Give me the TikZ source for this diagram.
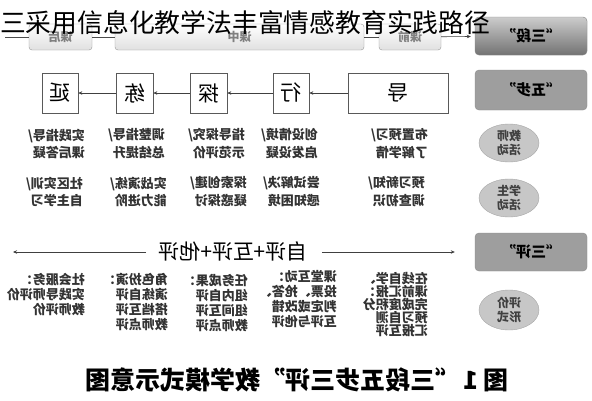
\documentclass[tikz,border=0pt]{standalone}
\usepackage{fontspec}
\setmainfont{Noto Sans CJK SC}
\usetikzlibrary{arrows.meta,shapes.geometric}
\begin{document}
\begin{tikzpicture}[x=1pt,y=-1pt,
  tbox/.style={draw=black!40, rounded corners=3pt, top color=white, bottom color=black!12, minimum height=26pt, inner sep=0pt, font=\fontsize{12}{12}\selectfont\bfseries, text=black!50},
  labbox/.style={draw=black!45, rounded corners=4pt, fill=black!38, minimum width=112pt, inner sep=0pt, font=\fontsize{15}{15}\selectfont\bfseries},
  stepbox/.style={draw=black!65, fill=white, minimum height=40pt, inner sep=0pt, line width=0.6pt, font=\fontsize{21}{21}\selectfont},
  ell/.style={ellipse, draw=black!35, fill=black!22, minimum width=60pt, minimum height=38pt, inner sep=0pt, align=center, font=\fontsize{12}{14}\selectfont\bfseries, text=black!75},
  act/.style={anchor=north west, inner sep=0pt, align=left, font=\fontsize{13}{17.5}\selectfont\bfseries, text=black!80},
  evl/.style={anchor=north west, inner sep=0pt, align=left, font=\fontsize{13}{15}\selectfont\bfseries, text=black!80},
  arr/.style={-{Stealth[length=4pt,width=3.5pt]}, draw=black!75, line width=0.6pt},
  ln/.style={draw=black!70, line width=0.6pt}
]
\fill[white] (0,0) rectangle (592,400);
\useasboundingbox (0,0) rectangle (592,400);
\begin{scope}[shift={(592,0)}, xscale=-1, transform shape]
% row 1
\node[labbox, minimum height=38pt, top color=black!20, bottom color=black!55] (sd) at (61,36) {“三段”};
\node[tbox, minimum width=62pt] (kq) at (182,37) {课前};
\node[tbox, minimum width=249pt] (kz) at (352.5,37) {课中};
\node[tbox, minimum width=63pt] (kh) at (531.5,37) {课后};
\coordinate (tend) at (587,37);
\draw[ln] (kh) -- (tend);
\draw[ln] (kz) -- (kh);
\draw[ln] (kq) -- (kz);
\draw[arr, shorten >=4pt] (kq) -- (sd);
% row 2
\node[labbox, minimum height=40pt] (wb) at (61,90) {“五步”};
\node[stepbox, minimum width=100pt] (d) at (194,93) {导};
\node[stepbox, minimum width=36pt] (x) at (301,93) {行};
\node[stepbox, minimum width=37pt] (t) at (383.5,93) {探};
\node[stepbox, minimum width=37pt] (l) at (457.5,93) {练};
\node[stepbox, minimum width=36pt] (y) at (532,93) {延};
\draw[arr] (d) -- (x);
\draw[arr] (x) -- (t);
\draw[arr] (t) -- (l);
\draw[arr] (l) -- (y);
% activities
\node[ell] (js) at (83,143) {教师\\活动};
\node[ell] (xs) at (83,198) {学生\\活动};
\node[act] (t1) at (164,128.5) {布置预习/\\了解学情};
\node[act] (t2) at (274,128.5) {创设情境/\\启发设疑};
\node[act] (t3) at (347,128.5) {指导探究/\\示范评价};
\node[act] (t4) at (427,128.5) {调整指导/\\总结提升};
\node[act] (t5) at (507,128.5) {实践指导/\\课后答疑};
\node[act] (s1) at (167,176.5) {预习新知/\\调查初识};
\node[act] (s2) at (272,176.5) {尝试解决/\\感知困境};
\node[act] (s3) at (345,176.5) {探索创建/\\疑惑探讨};
\node[act] (s4) at (425,176.5) {实战演练/\\能力进阶};
\node[act] (s5) at (509,176.5) {社区实训/\\自主学习};
% evaluation
\node[labbox, minimum height=38pt] (sp) at (61,252) {“三评”};
\node[font=\fontsize{21}{21}\selectfont, inner sep=0pt] (pj) at (359,252) {自评+互评+他评};
\coordinate (pr) at (579,252);
\draw[arr, shorten <=14pt, shorten >=20pt] (pj) -- (sp);
\draw[arr, shorten <=12pt] (pj.east) -- (pr);
\node[ell, minimum height=40pt] (pf) at (83,310) {评价\\形式};
\node[evl, font=\fontsize{13}{12.8}\selectfont\bfseries] (e1) at (164,272.5) {在线自学、\\课前汇报：\\完成度积分\\预习自测\\汇报互评};
\node[evl] (e2) at (255,270.5) {课堂互动：\\投票、抢答、\\判定或改错\\互评与他评};
\node[evl] (e3) at (344,273.5) {任务成果：\\组内自评\\组间互评\\教师点评};
\node[evl] (e4) at (424,273.5) {角色扮演：\\演练自评\\搭档互评\\教师点评};
\node[evl] (e5) at (507,273.5) {社会服务：\\实践导师评价\\教师评价};
% caption
\node[font=\fontsize{25}{25}\selectfont\bfseries, inner sep=0pt, anchor=west] (c1) at (83,380) {图~1};
\node[font=\fontsize{25}{25}\selectfont\bfseries, inner sep=0pt, anchor=east] (c2) at (507,380) {“三段五步三评”教学模式示意图};
\end{scope}
\node[anchor=west, inner sep=0pt, font=\fontsize{25.8}{26}\selectfont] (title) at (0,23) {三采用信息化教学法丰富情感教育实践路径};
\end{tikzpicture}
\end{document}
